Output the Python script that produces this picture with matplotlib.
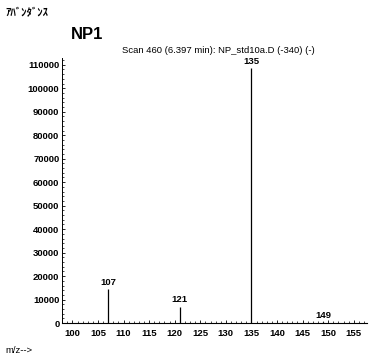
import numpy as np
import matplotlib
matplotlib.use("Agg")
import matplotlib.pyplot as plt
from matplotlib.ticker import MultipleLocator

plt.rcParams["font.family"] = ["Liberation Sans", "Noto Sans CJK JP"]

# peaks
mz = [107, 121, 135, 149]
abundance = [14500, 7000, 108500, 400]
peak_labels = ["107", "121", "135", "149"]

x_ticks = [100, 105, 110, 115, 120, 125, 130, 135, 140, 145, 150, 155]
y_ticks = [0, 10000, 20000, 30000, 40000, 50000, 60000, 70000, 80000, 90000, 100000, 110000]

fig = plt.figure(figsize=(3.70, 3.59), dpi=100)
ax = fig.add_axes([0.168, 0.100, 0.824, 0.738])

ax.vlines(mz, 0, abundance, color="black", linewidth=0.9)
for x, y, lab in zip(mz, abundance, peak_labels):
    ax.text(x, y + 1000, lab, ha="center", va="bottom", fontsize=6.8, fontweight="bold")

ax.set_xlim(98, 157.6)
ax.set_ylim(0, 112800)
ax.set_xticks(x_ticks)
ax.set_yticks(y_ticks)
ax.set_yticklabels([str(v) for v in y_ticks])
ax.xaxis.set_minor_locator(MultipleLocator(1))
ax.yaxis.set_minor_locator(MultipleLocator(2000))
ax.tick_params(axis="both", labelsize=6.8, direction="in", length=2.5, width=0.6, pad=2)
ax.tick_params(axis="x", pad=4)
ax.tick_params(axis="x", which="minor", direction="in", length=1.5, width=0.5)
ax.tick_params(axis="y", which="minor", direction="in", length=1.5, width=0.5)
for lbl in ax.get_xticklabels() + ax.get_yticklabels():
    lbl.set_fontweight("bold")

ax.spines["top"].set_visible(False)
ax.spines["right"].set_visible(False)
ax.spines["left"].set_linewidth(0.7)
ax.spines["bottom"].set_linewidth(0.8)

fig.text(0.014, 0.965, "ｱﾊﾞﾝﾀﾞﾝｽ", fontsize=7.8, fontweight="bold", va="center")
fig.text(0.192, 0.905, "NP1", fontsize=12, fontweight="bold", va="center")
fig.text(0.33, 0.858, "Scan 460 (6.397 min): NP_std10a.D (-340) (-)", fontsize=6.8, va="center")
fig.text(0.014, 0.025, "m/z-->", fontsize=6.8, va="center")

fig.savefig("out.png", dpi=100)
